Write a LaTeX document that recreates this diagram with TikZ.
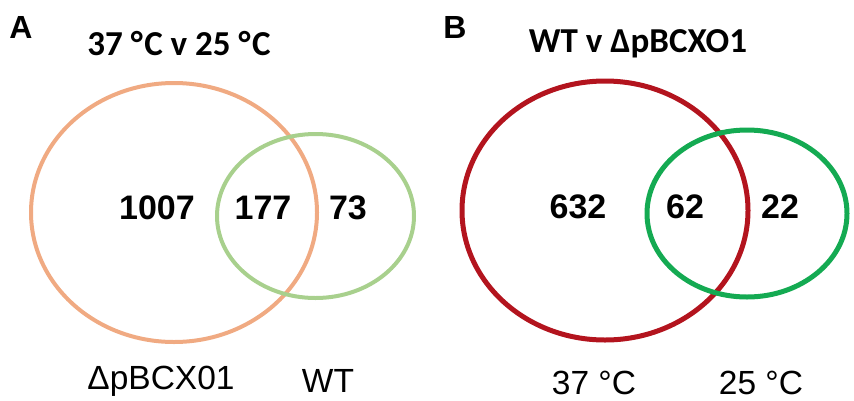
\documentclass[tikz,border=0pt]{standalone}
\usepackage{fontspec}
\setmainfont{Liberation Sans}
\newfontfamily\titlefont{Carlito}
\usetikzlibrary{shapes.geometric}
\definecolor{orangeA}{HTML}{F0AA82}
\definecolor{greenA}{HTML}{A8D08D}
\definecolor{redB}{HTML}{B3141E}
\definecolor{greenB}{HTML}{14AA52}
\tikzset{
  venn/.style={ellipse, draw, inner sep=0pt, outer sep=0pt},
  num/.style={font=\fontsize{34}{40}\selectfont\bfseries, inner sep=0pt},
  ttl/.style={font=\fontsize{35}{42}\selectfont\titlefont\bfseries, inner sep=0pt},
  lbl/.style={font=\fontsize{33.5}{40}\selectfont, inner sep=0pt},
  pnl/.style={font=\fontsize{32}{38}\selectfont\bfseries, inner sep=0pt},
}
\begin{document}
\begin{tikzpicture}[x=1pt,y=-1pt]
\useasboundingbox (0,0) rectangle (854,400);
% Panel A
\node[venn, draw=orangeA, line width=4pt, minimum width=286pt, minimum height=259pt] (bigA) at (174,212.5) {};
\node[venn, draw=greenA, line width=4pt, minimum width=197pt, minimum height=164pt] (smallA) at (315.5,216) {};
\node[pnl] (labA) at (21,27) {A};
\node[ttl] (titleA) at (179,44) {37 °\kern1.5pt C v 25 °\kern1.5pt C};
\node[num] (n1007) at (157,208) {1007};
\node[num] (n177) at (263,208) {177};
\node[num] (n73) at (348,208) {73};
\node[lbl] (lmut) at (161,381) {ΔpBCX01};
\node[lbl] (lwt) at (328,381) {WT};
% Panel B
\node[venn, draw=redB, line width=5pt, minimum width=286pt, minimum height=259pt] (bigB) at (605,210.5) {};
\node[venn, draw=greenB, line width=5pt, minimum width=200pt, minimum height=167pt] (smallB) at (747,213.5) {};
\node[pnl] (labB) at (455,27) {B};
\node[ttl] (titleB) at (638,44) {WT v ΔpBCXO1};
\node[num] (n632) at (578,207) {632};
\node[num] (n62) at (685,207) {62};
\node[num] (n22) at (780,207) {22};
\node[lbl] (l37) at (594,383) {37 °C};
\node[lbl] (l25) at (761,383) {25 °C};
\end{tikzpicture}
\end{document}
